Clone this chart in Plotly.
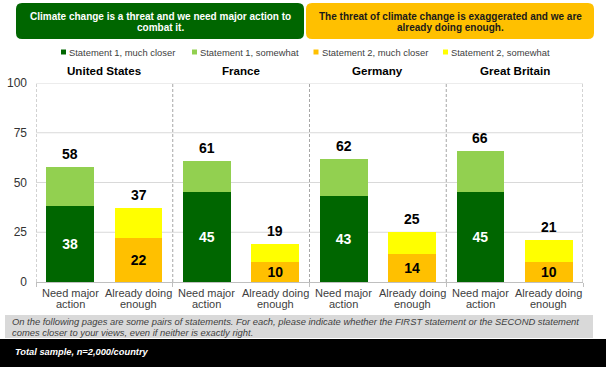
import plotly.graph_objects as go

countries = ["United States", "France", "Germany", "Great Britain"]
bar_labels_1 = ["Need major", "Already doing"]
bar_labels_2 = ["action", "enough"]
s1_much = [38, 45, 43, 45]
s1_some = [20, 16, 19, 21]
s2_much = [22, 10, 14, 10]
s2_some = [15, 9, 11, 11]
y_ticks = [0, 25, 50, 75, 100]

C_DG = "#006600"
C_LG = "#92D050"
C_OR = "#FFC000"
C_YE = "#FFFF00"
FONT = "Arial, Liberation Sans, sans-serif"

W, H = 606, 367
L, R, T, B = 36, 583, 83, 282  # plot area in pixels

x_need = [2 * i for i in range(len(countries))]
x_alr = [2 * i + 1 for i in range(len(countries))]

fig = go.Figure()
fig.add_bar(x=x_need, y=s1_much, marker_color=C_DG, width=0.7, name="Statement 1, much closer",
            text=[str(v) for v in s1_much], textposition="inside", insidetextanchor="middle",
            textangle=0, constraintext="none",
            textfont=dict(color="white", size=14, family=FONT, weight="bold"), marker_line_width=0)
fig.add_bar(x=x_need, y=s1_some, marker_color=C_LG, width=0.7, name="Statement 1, somewhat",
            marker_line_width=0)
fig.add_bar(x=x_alr, y=s2_much, marker_color=C_OR, width=0.7, name="Statement 2, much closer",
            text=[str(v) for v in s2_much], textposition="inside", insidetextanchor="middle",
            textangle=0, constraintext="none",
            textfont=dict(color="black", size=14, family=FONT, weight="bold"), marker_line_width=0)
fig.add_bar(x=x_alr, y=s2_some, marker_color=C_YE, width=0.7, name="Statement 2, somewhat",
            marker_line_width=0)


def px(x):
    return (x - L) / (R - L)


def py(y):
    return (B - y) / (B - T)


ann = []
shapes = []
for i in range(len(countries)):
    for xx, tot in ((x_need[i], s1_much[i] + s1_some[i]), (x_alr[i], s2_much[i] + s2_some[i])):
        ann.append(dict(x=xx, y=tot, xref="x", yref="y", text=f"<b>{tot}</b>", showarrow=False,
                        yanchor="middle", yshift=13, font=dict(size=14, color="black", family=FONT)))
    for j, xx in enumerate((x_need[i], x_alr[i])):
        ann.append(dict(x=xx, y=0, xref="x", yref="y", text=bar_labels_1[j], showarrow=False,
                        yanchor="middle", yshift=-11, font=dict(size=11, color="#404040", family=FONT)))
        ann.append(dict(x=xx, y=0, xref="x", yref="y", text=bar_labels_2[j], showarrow=False,
                        yanchor="middle", yshift=-22, font=dict(size=11, color="#404040", family=FONT)))
    ann.append(dict(x=2 * i + 0.5, y=100, xref="x", yref="y", text=f"<b>{countries[i]}</b>",
                    showarrow=False, yanchor="middle", yshift=13,
                    font=dict(size=11.6, color="black", family=FONT)))

for t in y_ticks[1:]:
    shapes.append(dict(type="line", xref="x", yref="y", x0=-0.5, x1=7.5, y0=t, y1=t,
                       line=dict(color="#D9D9D9", width=1), layer="below"))
for xv in [-0.5, 1.5, 3.5, 5.5, 7.5]:
    shapes.append(dict(type="line", xref="x", yref="y", x0=xv, x1=xv, y0=0, y1=100,
                       line=dict(color="#A6A6A6", width=1, dash="3px,2px"), layer="below"))


def rounded(x0, y0, x1, y1, r):
    def P(x, y):
        return f"{px(x)},{py(y)}"
    return (f"M{P(x0+r,y0)} L{P(x1-r,y0)} Q{P(x1,y0)} {P(x1,y0+r)} L{P(x1,y1-r)} Q{P(x1,y1)} {P(x1-r,y1)} "
            f"L{P(x0+r,y1)} Q{P(x0,y1)} {P(x0,y1-r)} L{P(x0,y0+r)} Q{P(x0,y0)} {P(x0+r,y0)} Z")


shapes.append(dict(type="path", xref="paper", yref="paper", path=rounded(16, 3, 304, 39, 6),
                   fillcolor=C_DG, line=dict(width=0)))
shapes.append(dict(type="path", xref="paper", yref="paper", path=rounded(306, 3, 594, 39, 6),
                   fillcolor=C_OR, line=dict(width=0)))
hdr1 = ["Climate change is a threat and we need major action to", "combat it."]
hdr2 = ["The threat of climate change is exaggerated and we are", "already doing enough."]
for k, yy in enumerate((16, 27.5)):
    ann.append(dict(x=px(160), y=py(yy), xref="paper", yref="paper", text=f"<b>{hdr1[k]}</b>",
                    showarrow=False, xanchor="center", yanchor="middle",
                    font=dict(size=10, color="white", family=FONT)))
    ann.append(dict(x=px(450), y=py(yy), xref="paper", yref="paper", text=f"<b>{hdr2[k]}</b>",
                    showarrow=False, xanchor="center", yanchor="middle",
                    font=dict(size=10, color="#1a1a1a", family=FONT)))

leg = [("Statement 1, much closer", C_DG, 63.5), ("Statement 1, somewhat", C_LG, 194.5),
       ("Statement 2, much closer", C_OR, 316), ("Statement 2, somewhat", C_YE, 445.5)]
for name, col, lx in leg:
    shapes.append(dict(type="rect", xref="paper", yref="paper", x0=px(lx - 2.5), x1=px(lx + 2.5),
                       y0=py(54.5), y1=py(49.5), fillcolor=col, line=dict(width=0)))
    ann.append(dict(x=px(lx + 3.5), y=py(52), xref="paper", yref="paper", text=name, showarrow=False,
                    xanchor="left", yanchor="middle", font=dict(size=9.4, color="#404040", family=FONT)))

shapes.append(dict(type="rect", xref="paper", yref="paper", x0=px(5), x1=px(593), y0=py(338), y1=py(315),
                   fillcolor="#D9D9D9", line=dict(width=0)))
notes = ["On the following pages are some pairs of statements. For each, please indicate whether the FIRST statement or the SECOND statement",
         "comes closer to your views, even if neither is exactly right."]
for k, yy in enumerate((321.5, 332)):
    ann.append(dict(x=px(10), y=py(yy), xref="paper", yref="paper", text=f"<i>{notes[k]}</i>",
                    showarrow=False, xanchor="left", yanchor="middle",
                    font=dict(size=9.4, color="#404040", family=FONT)))
shapes.append(dict(type="rect", xref="paper", yref="paper", x0=px(0), x1=px(W), y0=py(H), y1=py(339),
                   fillcolor="black", line=dict(width=0)))
ann.append(dict(x=px(13), y=py(352), xref="paper", yref="paper",
                text="<b><i>Total sample, n=2,000/country</i></b>", showarrow=False,
                xanchor="left", yanchor="middle", font=dict(size=9.3, color="white", family=FONT)))

fig.update_layout(
    width=W, height=H, barmode="stack", showlegend=False,
    margin=dict(l=L, r=W - R, t=T, b=H - B, autoexpand=False),
    paper_bgcolor="white", plot_bgcolor="white",
    font=dict(family=FONT),
    annotations=ann, shapes=shapes,
    uniformtext=dict(mode="show", minsize=14),
    xaxis=dict(range=[-0.5, 7.5], showgrid=False, zeroline=False, showline=True, linecolor="#BFBFBF",
               tickvals=[-0.5, 1.5, 3.5, 5.5, 7.5], ticks="outside", ticklen=4, tickcolor="#BFBFBF",
               showticklabels=False, fixedrange=True, automargin=False),
    yaxis=dict(range=[0, 100], tickvals=y_ticks, showgrid=False, zeroline=False, showline=False,
               tickfont=dict(size=12, color="#333333", family=FONT), ticklabelstandoff=8,
               fixedrange=True, automargin=False),
)

fig.write_html("out.html", config={"displayModeBar": False},
               post_script="document.body.style.margin='0px';document.body.style.overflow='hidden';")
